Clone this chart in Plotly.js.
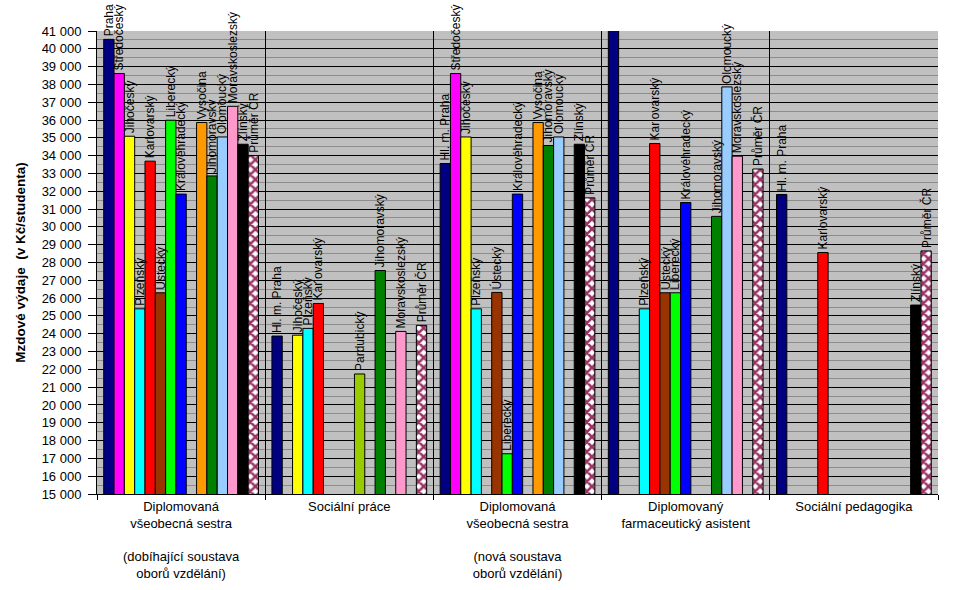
<!DOCTYPE html>
<html>
<head>
<meta charset="utf-8">
<script src="https://cdn.plot.ly/plotly-3.0.1.min.js"></script>
<style>
html,body{margin:0;padding:0;background:#fff;}
#chart{width:953px;height:590px;}
</style>
</head>
<body>
<div id="chart"></div>
<script>
// ---- DATA ----
const categories = [
  "Diplomovaná<br>všeobecná sestra<br><br>(dobíhající soustava<br>oborů vzdělání)",
  "Sociální práce",
  "Diplomovaná<br>všeobecná sestra<br><br>(nová soustava<br>oborů vzdělání)",
  "Diplomovaný<br>farmaceutický asistent",
  "Sociální pedagogika"
];

const regionNames = ["Praha","Středočeský","Jihočeský","Plzeňský","Karlovarský","Ústecký","Liberecký",
  "Královéhradecký","Pardubický","Vysočina","Jihomoravský","Olomoucký","Moravskoslezský","Zlínský","Průměr ČR"];

const praha           = [40530, 23870, 33560, 42000, 31820];
const stredocesky     = [38610, null,  38610, null,  null];
const jihocesky       = [35090, 23920, 35050, null,  null];
const plzensky        = [25400, 24300, 25400, 25400, null];
const karlovarsky     = [33690, 25700, null,  34680, 28560];
const ustecky         = [26300, null,  26320, 26300, null];
const liberecky       = [35990, null,  17260, 26300, null];
const kralovehradecky = [31840, null,  31840, 31370, null];
const pardubicky      = [null,  21740, null,  null,  null];
const vysocina        = [35860, null,  35860, null,  null];
const jihomoravsky    = [32860, 27550, 34570, 30590, null];
const olomoucky       = [35050, null,  35050, 37860, null];
const moravskoslezsky = [36770, 24130, null,  33970, null];
const zlinsky         = [34640, null,  34640, null,  25610];
const prumerCR        = [34000, 24470, 31630, 33250, 28650];

const prahaLabels = ["Praha", "Hl. m. Praha", "Hl. m. Praha", "", "Hl. m. Praha"];

const seriesValues = [praha, stredocesky, jihocesky, plzensky, karlovarsky, ustecky, liberecky,
  kralovehradecky, pardubicky, vysocina, jihomoravsky, olomoucky, moravskoslezsky, zlinsky, prumerCR];

// ---- STYLE ----
const regionColors = ["#000080","#FF00FF","#FFFF00","#00FFFF","#FF0000","#993300","#00FF00",
  "#0000FF","#99CC00","#FF9900","#008000","#99CCFF","#FF99CC","#000000","#FFFFFF"];

const FONT = "Liberation Sans, Arial, sans-serif";
const traces = [];

// bar layer (clipped to plot area)
seriesValues.forEach((vals, i) => {
  const isAvg = i === seriesValues.length - 1;
  const marker = {color: regionColors[i], line: {color: "#000000", width: 1}};
  if (isAvg) {
    marker.pattern = {shape: "x", fgcolor: "#993366", bgcolor: "#FFFFFF", size: 7, solidity: 0.6};
  }
  traces.push({
    type: "bar", name: regionNames[i], x: categories, y: vals,
    offsetgroup: "g" + i, marker: marker, showlegend: false, cliponaxis: true,
    hovertemplate: regionNames[i] + ": %{y}<extra></extra>"
  });
});

// label layer (transparent bars carrying the rotated names, drawn above all bars)
seriesValues.forEach((vals, i) => {
  const labels = (i === 0) ? prahaLabels : vals.map(v => v === null ? "" : regionNames[i]);
  traces.push({
    type: "bar", name: regionNames[i] + " popisek", x: categories, y: vals,
    offsetgroup: "g" + i,
    marker: {color: "rgba(0,0,0,0)", line: {width: 0}},
    text: labels, textposition: "outside", textangle: -90, constraintext: "none",
    textfont: {family: FONT, size: 12, color: "#000000"},
    cliponaxis: false, showlegend: false, hoverinfo: "skip"
  });
});

const layout = {
  width: 953, height: 590,
  margin: {l: 97, r: 15, t: 31, b: 96, pad: 0},
  paper_bgcolor: "#FFFFFF", plot_bgcolor: "#C0C0C0",
  separators: ", ",
  barmode: "group", bargap: 0.08, bargroupgap: 0,
  font: {family: FONT, size: 13, color: "#000000"},
  showlegend: false,
  xaxis: {
    type: "category", tickson: "boundaries", ticks: "outside", ticklen: 5, tickcolor: "#000000",
    showgrid: true, gridcolor: "#000000", gridwidth: 1,
    showline: true, linecolor: "#000000", linewidth: 1,
    tickfont: {family: FONT, size: 13, color: "#000000"},
    fixedrange: true
  },
  yaxis: {
    range: [15000, 41000], dtick: 1000, tick0: 15000, tickformat: ",d",
    ticks: "outside", ticklen: 8, tickcolor: "#000000", ticklabelstandoff: 4,
    showgrid: true, gridcolor: "#000000", gridwidth: 1,
    minor: {dtick: 500, showgrid: true, gridcolor: "#8C8C8C", gridwidth: 1, ticks: ""},
    showline: true, linecolor: "#000000", linewidth: 1, zeroline: false,
    tickfont: {family: FONT, size: 13, color: "#000000"},
    title: {text: "Mzdové výdaje  (v Kč/studenta)", font: {family: FONT, size: 13.5, color: "#000000", weight: "bold"}, standoff: 12},
    fixedrange: true
  }
};

Plotly.newPlot("chart", traces, layout, {displayModeBar: false, staticPlot: true});
</script>
</body>
</html>
